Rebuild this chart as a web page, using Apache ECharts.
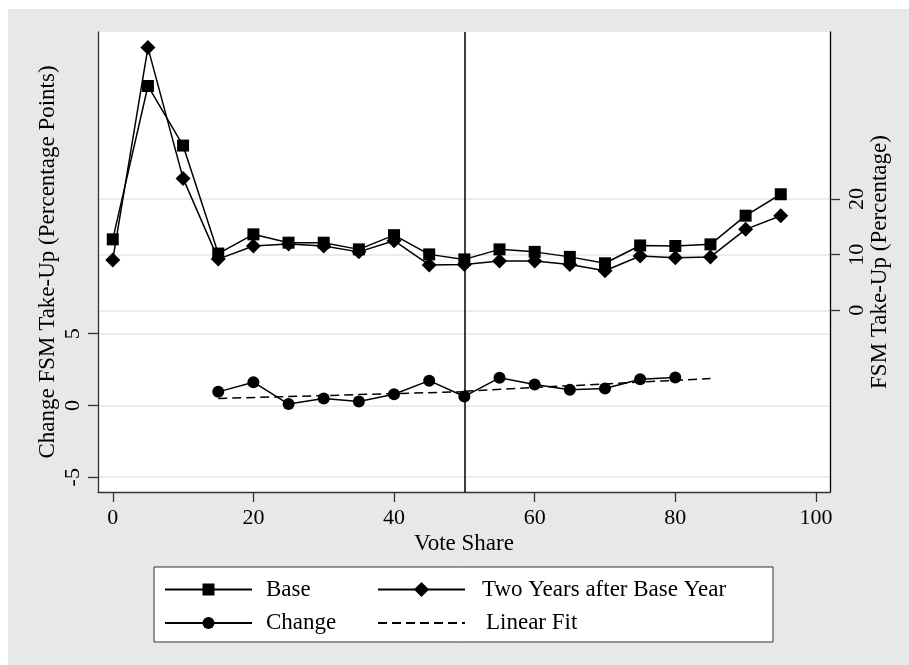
<!DOCTYPE html>
<html>
<head>
<meta charset="utf-8">
<script src="https://cdn.jsdelivr.net/npm/echarts@6/dist/echarts.min.js"></script>
<style>
html, body { margin: 0; padding: 0; background: #ffffff; }
#chart { width: 909px; height: 665px; }
</style>
</head>
<body>
<div id="chart"></div>
<script>
// ---- Data ----
const voteShare = [0, 5, 10, 15, 20, 25, 30, 35, 40, 45, 50, 55, 60, 65, 70, 75, 80, 85, 90, 95];
const baseTakeUp = [12.75, 40.3, 29.6, 10.2, 13.65, 12.15, 12.15, 10.95, 13.5, 10.05, 9.15, 10.95, 10.5, 9.6, 8.45, 11.65, 11.55, 11.85, 17.0, 20.85];
const twoYearTakeUp = [9.05, 47.2, 23.7, 9.2, 11.55, 11.9, 11.55, 10.5, 12.5, 8.15, 8.25, 8.85, 8.85, 8.25, 7.1, 9.75, 9.45, 9.6, 14.55, 17.0];
const changeShare = [15, 20, 25, 30, 35, 40, 45, 50, 55, 60, 65, 70, 75, 80];
const changeValues = [0.95, 1.62, 0.1, 0.48, 0.27, 0.78, 1.73, 0.63, 1.93, 1.46, 1.1, 1.19, 1.83, 1.95];
const fitLeftShare = [15, 50];
const fitLeftValues = [0.49, 0.96];
const fitRightShare = [50, 85];
const fitRightValues = [1.0, 1.88];
const xTicks = [0, 20, 40, 60, 80, 100];
const leftTicks = [-5, 0, 5];
const rightTicks = [0, 10, 20];
const cutoff = 50;

const FONT = '"Liberation Serif", "Times New Roman", serif';
const FS = 22;      // tick labels
const FS_T = 23;    // axis titles and legend
const AXIS_COLOR = '#333333';
const GRID_COLOR = '#e6e6e6';

const zip = (xs, ys) => xs.map((x, i) => [x, ys[i]]);

const chart = echarts.init(document.getElementById('chart'), null, { renderer: 'canvas' });

function legendItem(name, left, top, padLeft, itemHeight, extra) {
  return {
    show: true,
    data: [Object.assign({ name: name }, extra || {})],
    left: left,
    top: top,
    orient: 'horizontal',
    itemWidth: 87,
    itemHeight: itemHeight,
    itemGap: 0,
    padding: 0,
    selectedMode: false,
    textStyle: { fontFamily: FONT, fontSize: FS_T, color: '#000', padding: [0, 0, 0, padLeft] }
  };
}

const option = {
  animation: false,
  backgroundColor: '#ffffff',
  textStyle: { fontFamily: FONT },
  graphic: {
    elements: [
      { type: 'rect', z: -100, silent: true, shape: { x: 8, y: 9, width: 901, height: 656 }, style: { fill: '#e8e8e8' } },
      { type: 'rect', z: 1, silent: true, shape: { x: 154, y: 567, width: 619, height: 75 }, style: { fill: '#ffffff', stroke: '#333333', lineWidth: 1 } }
    ]
  },
  grid: {
    left: 98, right: 79, top: 32, bottom: 173,
    show: true, backgroundColor: '#ffffff', borderWidth: 0,
    containLabel: false
  },
  legend: [
    legendItem('Base', 164, 578, 9, 15),
    legendItem('Two Years after Base Year', 377, 578, 12, 19),
    legendItem('Change', 164, 611.5, 9, 15),
    legendItem('Linear Fit', 377, 611.5, 16, 15, { itemStyle: { opacity: 0 } })
  ],
  xAxis: {
    type: 'value',
    min: -2.1, max: 102.0,
    name: 'Vote Share',
    nameLocation: 'middle',
    nameGap: 40,
    nameMoveOverlap: false,
    nameTextStyle: { fontFamily: FONT, fontSize: FS_T, color: '#000' },
    axisLine: { show: true, onZero: false, lineStyle: { color: AXIS_COLOR, width: 1.3 } },
    axisTick: { show: true, length: 10, customValues: xTicks, lineStyle: { color: AXIS_COLOR, width: 1.3 } },
    axisLabel: { customValues: xTicks, margin: 15, fontFamily: FONT, fontSize: FS, color: '#000' },
    splitLine: { show: false }
  },
  yAxis: [
    {
      type: 'value',
      position: 'left',
      min: -6.03, max: 26.03,
      name: 'Change FSM Take-Up (Percentage Points)',
      nameLocation: 'middle',
      nameGap: 39,
      nameMoveOverlap: false,
      nameTextStyle: { fontFamily: FONT, fontSize: FS_T, color: '#000' },
      axisLine: { show: true, onZero: false, lineStyle: { color: AXIS_COLOR, width: 1.3 } },
      axisTick: { show: true, length: 10, customValues: leftTicks, lineStyle: { color: AXIS_COLOR, width: 1.3 } },
      axisLabel: { customValues: leftTicks, rotate: 90, margin: 14, fontFamily: FONT, fontSize: FS, color: '#000' },
      splitLine: { show: true, lineStyle: { color: GRID_COLOR, width: 1.5 } }
    },
    {
      type: 'value',
      position: 'right',
      min: -32.64, max: 50.0,
      name: 'FSM Take-Up (Percentage)',
      nameLocation: 'middle',
      nameGap: 38.5,
      nameMoveOverlap: false,
      nameTextStyle: { fontFamily: FONT, fontSize: FS_T, color: '#000' },
      axisLine: { show: true, onZero: false, lineStyle: { color: '#000', width: 1.3 } },
      axisTick: { show: true, length: 10, customValues: rightTicks, lineStyle: { color: AXIS_COLOR, width: 1.3 } },
      axisLabel: { customValues: rightTicks, rotate: 90, margin: 16, fontFamily: FONT, fontSize: FS, color: '#000' },
      splitLine: { show: true, lineStyle: { color: GRID_COLOR, width: 1.5 } }
    }
  ],
  series: [
    {
      name: 'Base',
      type: 'line',
      yAxisIndex: 1,
      data: zip(voteShare, baseTakeUp),
      symbol: 'rect',
      symbolSize: 12,
      itemStyle: { color: '#000', borderWidth: 0 },
      lineStyle: { color: '#000', width: 1.5 },
      z: 3,
      markLine: {
        silent: true,
        symbol: ['none', 'none'],
        label: { show: false },
        lineStyle: { color: '#000', width: 1.5, type: 'solid' },
        data: [{ xAxis: cutoff }]
      }
    },
    {
      name: 'Two Years after Base Year',
      type: 'line',
      yAxisIndex: 1,
      data: zip(voteShare, twoYearTakeUp),
      symbol: 'diamond',
      symbolSize: 15,
      itemStyle: { color: '#000', borderWidth: 0 },
      lineStyle: { color: '#000', width: 1.5 },
      z: 3
    },
    {
      name: 'Change',
      type: 'line',
      yAxisIndex: 0,
      data: zip(changeShare, changeValues),
      symbol: 'circle',
      symbolSize: 12,
      itemStyle: { color: '#000', borderWidth: 0 },
      lineStyle: { color: '#000', width: 1.5 },
      z: 3
    },
    {
      name: 'Linear Fit',
      type: 'line',
      yAxisIndex: 0,
      data: zip(fitLeftShare, fitLeftValues),
      symbol: 'circle',
      showSymbol: false,
      itemStyle: { color: '#000' },
      lineStyle: { color: '#000', width: 1.5, type: [9, 5] },
      z: 2
    },
    {
      name: 'Linear Fit',
      type: 'line',
      yAxisIndex: 0,
      data: zip(fitRightShare, fitRightValues),
      symbol: 'circle',
      showSymbol: false,
      itemStyle: { color: '#000' },
      lineStyle: { color: '#000', width: 1.5, type: [9, 5] },
      z: 2
    }
  ]
};

chart.setOption(option);
</script>
</body>
</html>
